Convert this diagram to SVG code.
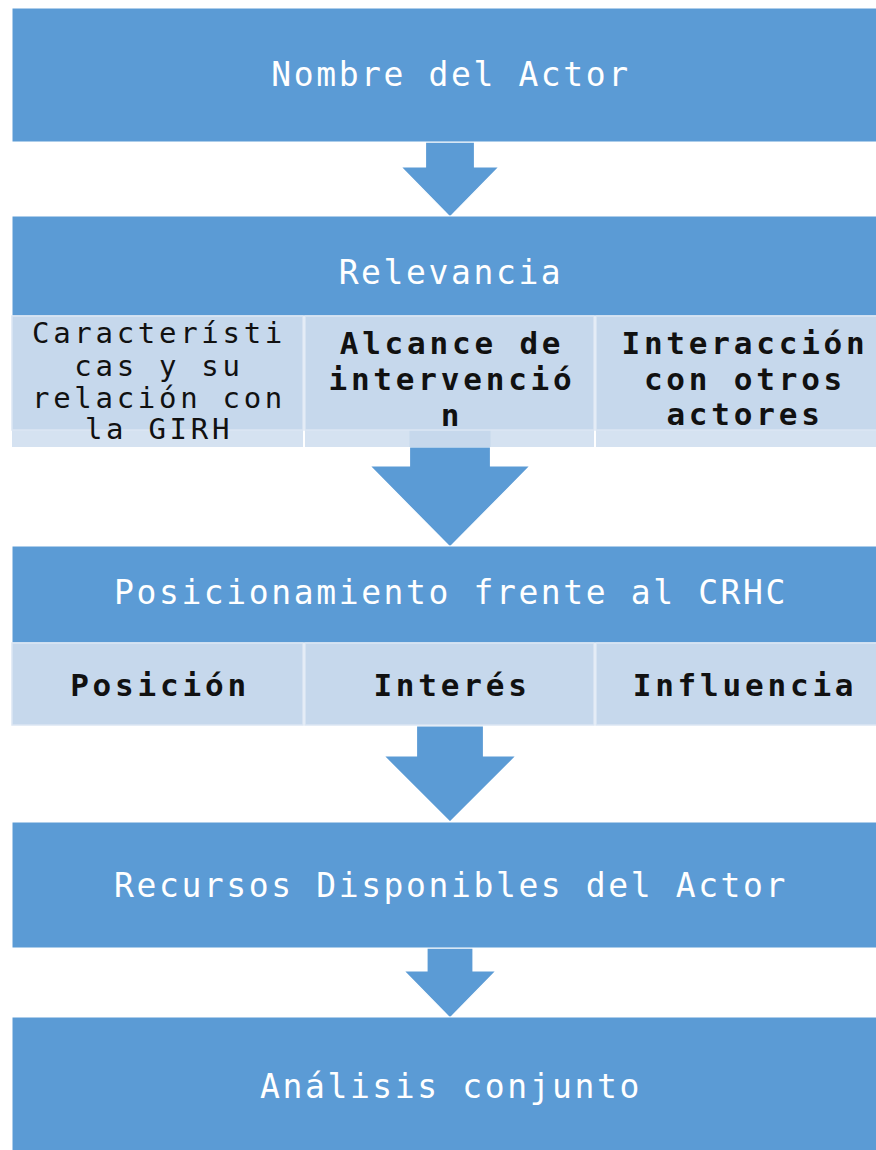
<svg xmlns="http://www.w3.org/2000/svg" width="876" height="1150" viewBox="0 0 876 1150">
<style>
.main{fill:#5b9bd5;stroke:#ffffff;stroke-width:1}
.cell{fill:#c6d8ec;stroke:#dbe6f3;stroke-width:1.5}
.strip{fill:#d5e2f1}
.arrow{fill:#5b9bd5;stroke:#ffffff;stroke-width:1.2}
.title{font-family:"DejaVu Sans Mono","Liberation Mono",monospace;font-size:33px;letter-spacing:2.6px;fill:#ffffff;text-anchor:middle}
.sub{font-family:"DejaVu Sans Mono","Liberation Mono",monospace;font-size:29px;letter-spacing:3.7px;fill:#111111;text-anchor:middle}
.subb{font-family:"DejaVu Sans Mono","Liberation Mono",monospace;font-size:31px;font-weight:bold;letter-spacing:3.8px;fill:#111111;text-anchor:middle}
</style>
<rect width="876" height="1150" fill="#ffffff"/>

<g id="connectors">
  <polygon class="arrow" points="425.5,142 474.5,142 474.5,167 499,167 450,217 401,167 425.5,167"/>
  <polygon class="arrow" points="409.5,447 490.5,447 490.5,466 530,466 450,547 370,466 409.5,466"/>
  <polygon class="arrow" points="416.5,726 483.5,726 483.5,756 516,756 450,822 384,756 416.5,756"/>
  <polygon class="arrow" points="427,948 473,948 473,971 496,971 450,1018 404,971 427,971"/>
</g>

<g id="node-nombre">
  <rect class="main" x="12" y="8" width="880" height="134"/>
  <text class="title" x="451" y="86">Nombre del Actor</text>
</g>

<g id="node-relevancia">
  <rect class="main" x="12" y="216" width="880" height="100"/>
  <text class="title" x="451" y="284">Relevancia</text>
</g>

<g id="node-caracteristicas">
  <rect class="strip" x="12" y="430" width="291" height="17"/>
  <rect class="cell" x="12" y="316" width="291" height="114"/>
  <text class="sub" x="159" y="343">Característi</text>
  <text class="sub" x="159" y="376">cas y su</text>
  <text class="sub" x="159" y="408">relación con</text>
  <text class="sub" x="159" y="439">la GIRH</text>
</g>

<g id="node-alcance">
  <rect class="strip" x="305" y="430" width="289" height="17"/>
  <rect fill="#c6d8ec" x="409.5" y="430" width="81" height="17"/>
  <rect class="cell" x="305" y="316" width="289" height="114"/>
  <text class="subb" x="452" y="354">Alcance de</text>
  <text class="subb" x="452" y="390">intervenció</text>
  <text class="subb" x="452" y="426">n</text>
</g>

<g id="node-interaccion">
  <rect class="strip" x="596" y="430" width="296" height="17"/>
  <rect class="cell" x="596" y="316" width="296" height="114"/>
  <text class="subb" x="745" y="354">Interacción</text>
  <text class="subb" x="745" y="390">con otros</text>
  <text class="subb" x="745" y="425">actores</text>
</g>

<g id="node-posicionamiento">
  <rect class="main" x="12" y="546" width="880" height="97"/>
  <text class="title" x="451" y="604">Posicionamiento frente al CRHC</text>
</g>

<g id="node-posicion">
  <rect class="cell" x="12" y="643" width="291" height="82"/>
  <text class="subb" x="160" y="696">Posición</text>
</g>
<g id="node-interes">
  <rect class="cell" x="305" y="643" width="289" height="82"/>
  <text class="subb" x="452" y="696">Interés</text>
</g>
<g id="node-influencia">
  <rect class="cell" x="596" y="643" width="296" height="82"/>
  <text class="subb" x="745" y="696">Influencia</text>
</g>

<g id="node-recursos">
  <rect class="main" x="12" y="822" width="880" height="126"/>
  <text class="title" x="451" y="897">Recursos Disponibles del Actor</text>
</g>

<g id="node-analisis">
  <rect class="main" x="12" y="1017" width="880" height="140"/>
  <text class="title" x="451" y="1098">Análisis conjunto</text>
</g>
</svg>
